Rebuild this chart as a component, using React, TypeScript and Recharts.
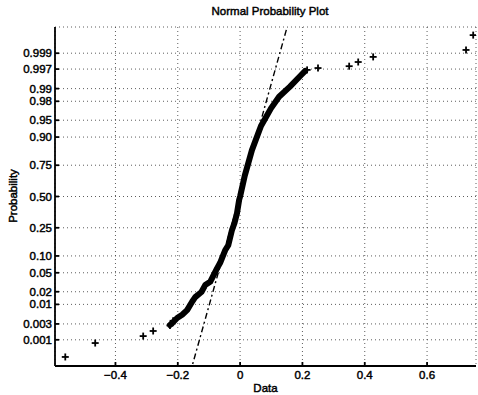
import React from "react";
import {
  ComposedChart,
  Scatter,
  Line,
  XAxis,
  YAxis,
  CartesianGrid,
} from "recharts";

// probability ticks shown on the y axis (normal quantile scale)
const probTicks = [0.001, 0.003, 0.01, 0.02, 0.05, 0.1, 0.25, 0.5, 0.75, 0.9, 0.95, 0.98, 0.99, 0.997, 0.999];
const probLabels = ["0.001", "0.003", "0.01", "0.02", "0.05", "0.10", "0.25", "0.50", "0.75", "0.90", "0.95", "0.98", "0.99", "0.997", "0.999"];
const dataTicks = [-0.4, -0.2, 0, 0.2, 0.4, 0.6];

// dense middle of the sample (data value, normal score)
const curveX = [-0.225, -0.218, -0.202, -0.186, -0.17, -0.154, -0.144, -0.124, -0.112, -0.096, -0.074, -0.064, -0.048, -0.038, -0.026, -0.018, -0.01, -0.003, 0, 0.015, 0.038, 0.067, 0.099, 0.125, 0.16, 0.196, 0.209];
const curveScore = [-2.77, -2.73, -2.62, -2.55, -2.45, -2.27, -2.17, -2.06, -1.91, -1.84, -1.55, -1.43, -1.16, -1.05, -0.72, -0.57, -0.36, -0.07, 0, 0.45, 1.0, 1.52, 1.9, 2.15, 2.37, 2.62, 2.71];

// single + markers in the tails
const tailX = [-0.561, -0.465, -0.311, -0.279, -0.225, -0.215, 0.215, 0.25, 0.35, 0.379, 0.427, 0.725, 0.748];
const tailScore = [-3.46, -3.16, -3.01, -2.9, -2.78, -2.68, 2.73, 2.77, 2.81, 2.9, 3.01, 3.16, 3.48];

// reference line (dash-dot) end points
const fitX = [-0.16, 0.157];
const fitScore = [-3.8, 3.8];

// inverse normal cdf (Acklam)
function normInv(p: number): number {
  const a = [-3.969683028665376e1, 2.209460984245205e2, -2.759285104469687e2, 1.38357751867269e2, -3.066479806614716e1, 2.506628277459239];
  const b = [-5.447609879822406e1, 1.615858368580409e2, -1.556989798598866e2, 6.680131188771972e1, -1.328068155288572e1];
  const c = [-7.784894002430293e-3, -3.223964580411365e-1, -2.400758277161838, -2.549732539343734, 4.374664141464968, 2.938163982698783];
  const d = [7.784695709041462e-3, 3.224671290700398e-1, 2.445134137142996, 3.754408661907416];
  const pl = 0.02425;
  if (p < pl) {
    const q = Math.sqrt(-2 * Math.log(p));
    return (((((c[0] * q + c[1]) * q + c[2]) * q + c[3]) * q + c[4]) * q + c[5]) / ((((d[0] * q + d[1]) * q + d[2]) * q + d[3]) * q + 1);
  }
  if (p > 1 - pl) {
    const q = Math.sqrt(-2 * Math.log(1 - p));
    return -(((((c[0] * q + c[1]) * q + c[2]) * q + c[3]) * q + c[4]) * q + c[5]) / ((((d[0] * q + d[1]) * q + d[2]) * q + d[3]) * q + 1);
  }
  const q = p - 0.5;
  const r = q * q;
  return ((((((a[0] * r + a[1]) * r + a[2]) * r + a[3]) * r + a[4]) * r + a[5]) * q) / (((((b[0] * r + b[1]) * r + b[2]) * r + b[3]) * r + b[4]) * r + 1);
}

const scoreTicks = probTicks.map(normInv);

const curveData = curveX.map((x, i) => ({ x, z: curveScore[i] }));
const tailData = tailX.map((x, i) => ({ x, z: tailScore[i] }));
const fitData = fitX.map((x, i) => ({ x, z: fitScore[i] }));

const FONT = "'Liberation Sans', Arial, sans-serif";
const textStyle = { fontFamily: FONT, fontSize: 11.5, fill: "#000", stroke: "#000", strokeWidth: 0.45 };

function probLabel(v: number) {
  let best = 0;
  scoreTicks.forEach((t, i) => {
    if (Math.abs(t - v) < Math.abs(scoreTicks[best] - v)) best = i;
  });
  return probLabels[best];
}

function Plus(props: any) {
  const { cx, cy } = props;
  if (cx == null || cy == null) return null;
  return (
    <g stroke="#000" strokeWidth={1.8}>
      <line x1={cx - 3.5} y1={cy} x2={cx + 3.5} y2={cy} />
      <line x1={cx} y1={cy - 3.5} x2={cx} y2={cy + 3.5} />
    </g>
  );
}

const NoTick = () => <g />;

const labelStyle: React.CSSProperties = {
  position: "absolute",
  fontFamily: FONT,
  fontSize: 11.5,
  WebkitTextStroke: "0.45px #000",
  whiteSpace: "nowrap",
  zIndex: 2,
};

export default function App() {
  return (
    <div style={{ position: "absolute", left: 0, top: 0, width: 478, height: 395, background: "#fff" }}>
      <div style={{ ...labelStyle, left: 120, top: 5, width: 300, textAlign: "center" }}>
        Normal Probability Plot
      </div>
      <div style={{ ...labelStyle, left: 0, top: 382, width: 531, textAlign: "center" }}>
        Data
      </div>
      <div
        style={{
          ...labelStyle,
          left: 13,
          top: 196,
          transform: "translate(-50%, -50%) rotate(-90deg)",
        }}
      >
        Probability
      </div>
      <ComposedChart width={478} height={395} margin={{ top: 27, right: 2, bottom: 0, left: 0 }}>
        <CartesianGrid stroke="#333" strokeDasharray="1 3" strokeWidth={0.8} />
        <XAxis
          dataKey="x"
          type="number"
          domain={[-0.594, 0.757]}
          ticks={dataTicks}
          allowDataOverflow
          height={29}
          tickSize={-4}
          tickMargin={9}
          stroke="#000"
          strokeWidth={1.8}
          tick={textStyle}
          tickFormatter={(v: number) => (v < 0 ? "\u2212" + Math.abs(v) : String(v))}
        />
        <XAxis
          xAxisId="top"
          orientation="top"
          dataKey="x"
          type="number"
          domain={[-0.594, 0.757]}
          ticks={dataTicks}
          allowDataOverflow
          height={0}
          tickSize={-4}
          stroke="#000"
          strokeWidth={1.2}
          tick={<NoTick />}
        />
        <YAxis
          dataKey="z"
          type="number"
          domain={[-3.655, 3.655]}
          ticks={scoreTicks}
          allowDataOverflow
          width={55}
          tickSize={-4}
          tickMargin={7}
          stroke="#000"
          strokeWidth={1.8}
          tick={textStyle}
          tickFormatter={probLabel}
          interval={0}
        />
        <YAxis
          yAxisId="right"
          orientation="right"
          dataKey="z"
          type="number"
          domain={[-3.655, 3.655]}
          ticks={scoreTicks}
          allowDataOverflow
          width={0}
          tickSize={-4}
          stroke="#000"
          strokeWidth={1.2}
          tick={<NoTick />}
          interval={0}
        />
        <Line
          data={fitData}
          dataKey="z"
          stroke="#000"
          strokeWidth={1.4}
          strokeDasharray="6 3 2 3"
          dot={false}
          isAnimationActive={false}
        />
        <Line
          data={curveData}
          dataKey="z"
          stroke="#000"
          strokeWidth={6}
          strokeLinecap="round"
          strokeLinejoin="round"
          dot={false}
          isAnimationActive={false}
        />
        <Scatter data={tailData} dataKey="z" shape={<Plus />} isAnimationActive={false} />
      </ComposedChart>
    </div>
  );
}
